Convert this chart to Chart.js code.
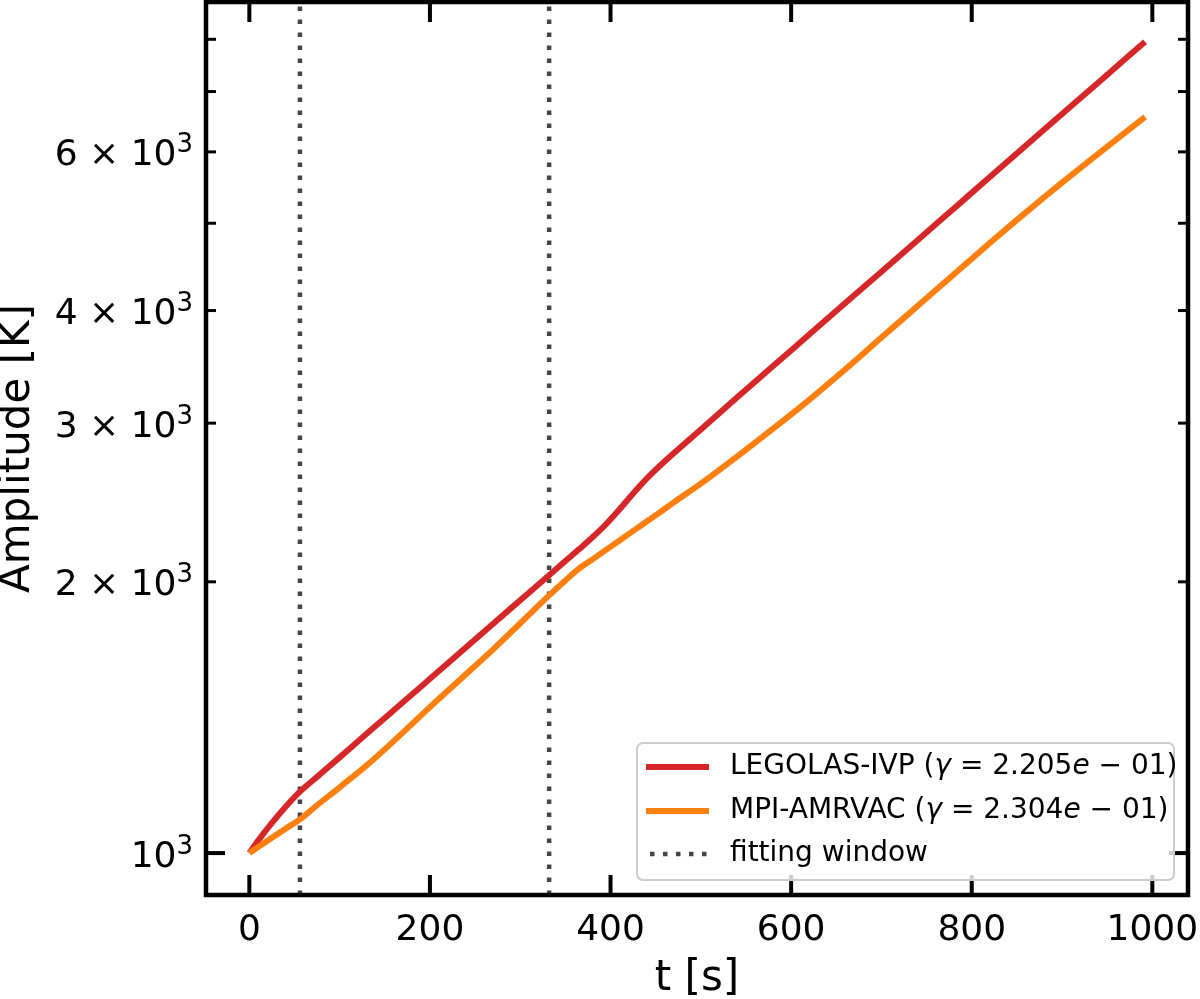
<!DOCTYPE html>
<html>
<head>
<meta charset="utf-8">
<script src="https://cdn.jsdelivr.net/npm/chart.js@4.4.1/dist/chart.umd.min.js"></script>
<style>
  html, body { margin: 0; padding: 0; background: #fff; }
  #wrap { width: 1200px; height: 999px; }
</style>
</head>
<body>
<div id="wrap"><canvas id="ampChart"></canvas></div>
<script>
// values (t in s, amplitude in K)
const tSeconds   = [0, 10, 25, 40, 56, 75, 100, 133, 165, 200, 235, 270, 300, 332, 350, 365, 380, 395, 410, 425, 440, 455, 470, 500, 540, 580, 620, 660, 700, 740, 780, 820, 860, 900, 940, 992];
const legolasAmp = [1000, 1033, 1080, 1125, 1170, 1215, 1277, 1365, 1455, 1561, 1675, 1797, 1908, 2034, 2109, 2173, 2241, 2317, 2407, 2506, 2603, 2692, 2777, 2951, 3203, 3471, 3762, 4077, 4418, 4788, 5190, 5626, 6097, 6610, 7161, 7952];
const amrvacAmp  = [1000, 1016, 1040, 1064, 1090, 1130, 1183, 1259, 1346, 1452, 1563, 1683, 1799, 1932, 2007, 2068, 2118, 2170, 2223, 2278, 2333, 2390, 2450, 2570, 2754, 2958, 3184, 3443, 3733, 4046, 4385, 4753, 5140, 5546, 5970, 6561];
const fitWindow  = [56, 332];

const seriesNames = ['LEGOLAS-IVP', 'MPI-AMRVAC'];
const growthRates = ['2.205', '2.304'];
const seriesColors = ['#d62728', '#ff7f0e'];

const xTickValues = [0, 200, 400, 600, 800, 1000];
const yTickValues = [1000, 2000, 3000, 4000, 5000, 6000, 7000, 8000];
const yTickLabels = ['10^3', '2 × 10^3', '3 × 10^3', '4 × 10^3', '', '6 × 10^3', '', ''];
const xRange = [-48, 1039.5];
const yRange = [898.4, 8800];

const FONT = 'DejaVu Sans';
let chart;

// matplotlib-style frame with inward ticks on all four sides, plus y labels with superscripts
const inwardTicks = {
  id: 'inwardTicks',
  afterDatasetsDraw(ch) {
    const c = ch.ctx, a = ch.chartArea, x = ch.scales.x, y = ch.scales.y;
    const seg = (x1, y1, x2, y2) => { c.beginPath(); c.moveTo(x1, y1); c.lineTo(x2, y2); c.stroke(); };
    c.save();
    c.strokeStyle = '#000';
    c.lineCap = 'butt';
    c.lineWidth = 4;
    x.ticks.forEach(t => {
      const px = x.getPixelForValue(t.value);
      seg(px, a.bottom, px, a.bottom - 20);
      seg(px, a.top, px, a.top + 20);
    });
    y.ticks.forEach(t => {
      const py = y.getPixelForValue(t.value);
      const major = Number.isInteger(Math.log10(t.value));
      c.lineWidth = major ? 4 : 3;
      const len = major ? 19 : 10;
      seg(a.left, py, a.left + len, py);
      seg(a.right, py, a.right - len, py);
    });
    c.lineWidth = 4.5;
    c.strokeRect(a.left, a.top, a.right - a.left, a.bottom - a.top);

    // y tick labels: "m × 10" with a raised exponent
    c.fillStyle = '#000';
    c.textAlign = 'left';
    c.textBaseline = 'alphabetic';
    y.ticks.forEach(t => {
      const label = yTickLabels[yTickValues.indexOf(t.value)];
      if (!label) return;
      const [base, exp] = label.split('^');
      const py = y.getPixelForValue(t.value);
      c.font = '36px "' + FONT + '"';
      const wb = c.measureText(base).width;
      c.font = '26px "' + FONT + '"';
      const we = c.measureText(exp).width;
      const x0 = a.left - 13 - wb - we;
      c.font = '36px "' + FONT + '"';
      c.fillText(base, x0, py + 13.5);
      c.font = '26px "' + FONT + '"';
      c.fillText(exp, x0 + wb, py + 0.5);
    });
    c.restore();
  }
};

// legend box in the lower right, with italic gamma and e like mathtext
const boxLegend = {
  id: 'boxLegend',
  afterDraw(ch) {
    const c = ch.ctx, a = ch.chartArea;
    const w = 537, h = 137;
    const bx = a.right - 14 - w, by = a.bottom - 15 - h;
    c.save();
    c.beginPath();
    c.roundRect(bx, by, w, h, 6);
    c.fillStyle = 'rgba(255,255,255,0.8)';
    c.fill();
    c.lineWidth = 2;
    c.strokeStyle = '#cccccc';
    c.stroke();

    const items = ch.data.datasets.filter(d => !d.hideInLegend);
    const rowY = [by + 24, by + 68, by + 111];
    items.forEach((d, i) => {
      const yy = rowY[i];
      c.strokeStyle = d.borderColor;
      c.lineWidth = d.borderDash ? 4.5 : 6;
      c.setLineDash(d.borderDash || []);
      c.lineDashOffset = d.borderDash ? -4 : 0;
      c.beginPath();
      c.moveTo(bx + 9, yy);
      c.lineTo(bx + 72, yy);
      c.stroke();
      c.setLineDash([]);

      c.fillStyle = '#000';
      c.textBaseline = 'middle';
      c.textAlign = 'left';
      let tx = bx + 93;
      d.legendParts.forEach(p => {
        c.font = (p.italic ? 'italic ' : '') + '28px "' + FONT + '"';
        c.fillText(p.text, tx, yy);
        tx += c.measureText(p.text).width;
      });
    });
    c.restore();
  }
};

function fitLabel(i) {
  return [
    { text: seriesNames[i] + ' (' },
    { text: 'γ', italic: true },
    { text: ' = ' + growthRates[i] },
    { text: 'e', italic: true },
    { text: ' − 01)' }
  ];
}

window.onload = () => {
  const ctx = document.getElementById('ampChart').getContext('2d');

  const windowLine = (tx, extra) => Object.assign({
    data: [{ x: tx, y: yRange[0] }, { x: tx, y: yRange[1] }],
    borderColor: '#454545',
    borderWidth: 4.5,
    borderDash: [4.5, 8.5],
    borderCapStyle: 'butt',
    pointRadius: 0,
    order: 3
  }, extra);

  chart = new Chart(ctx, {
    type: 'line',
    data: {
      datasets: [{
        label: seriesNames[0],
        legendParts: fitLabel(0),
        data: tSeconds.map((t, i) => ({ x: t, y: legolasAmp[i] })),
        borderColor: seriesColors[0],
        borderWidth: 6,
        pointRadius: 0,
        cubicInterpolationMode: 'monotone',
        fill: false,
        order: 2
      }, {
        label: seriesNames[1],
        legendParts: fitLabel(1),
        data: tSeconds.map((t, i) => ({ x: t, y: amrvacAmp[i] })),
        borderColor: seriesColors[1],
        borderWidth: 6,
        pointRadius: 0,
        cubicInterpolationMode: 'monotone',
        fill: false,
        order: 1
      },
      windowLine(fitWindow[0], { label: 'fitting window', legendParts: [{ text: 'fitting window' }] }),
      windowLine(fitWindow[1], { label: 'fitting window end', hideInLegend: true })
      ]
    },
    options: {
      responsive: true,
      maintainAspectRatio: false,
      animation: false,
      layout: { autoPadding: false, padding: { top: 2, right: 12, left: 0, bottom: 0 } },
      plugins: { legend: { display: false }, tooltip: { enabled: false } },
      scales: {
        x: {
          type: 'linear',
          min: xRange[0],
          max: xRange[1],
          afterBuildTicks: s => { s.ticks = xTickValues.map(v => ({ value: v })); },
          afterFit: s => { s.height = 104; s.paddingLeft = 0; s.paddingRight = 0; },
          grid: { display: false },
          border: { display: false },
          ticks: {
            autoSkip: false,
            maxRotation: 0,
            padding: 6,
            color: '#000',
            font: { family: FONT, size: 36 },
            callback: v => String(v)
          },
          title: {
            display: true,
            text: 't [s]',
            color: '#000',
            font: { family: FONT, size: 42, lineHeight: 0.95 },
            padding: { top: 0, bottom: 0 }
          }
        },
        y: {
          type: 'logarithmic',
          min: yRange[0],
          max: yRange[1],
          afterBuildTicks: s => { s.ticks = yTickValues.map(v => ({ value: v })); },
          afterFit: s => { s.width = 206; s.paddingTop = 0; s.paddingBottom = 0; },
          grid: { display: false },
          border: { display: false },
          ticks: { display: false },
          title: {
            display: true,
            text: 'Amplitude [K]',
            color: '#000',
            font: { family: FONT, size: 42, lineHeight: 0.84 },
            padding: { top: 0, bottom: 0 }
          }
        }
      }
    },
    plugins: [inwardTicks, boxLegend]
  });
};
</script>
</body>
</html>
